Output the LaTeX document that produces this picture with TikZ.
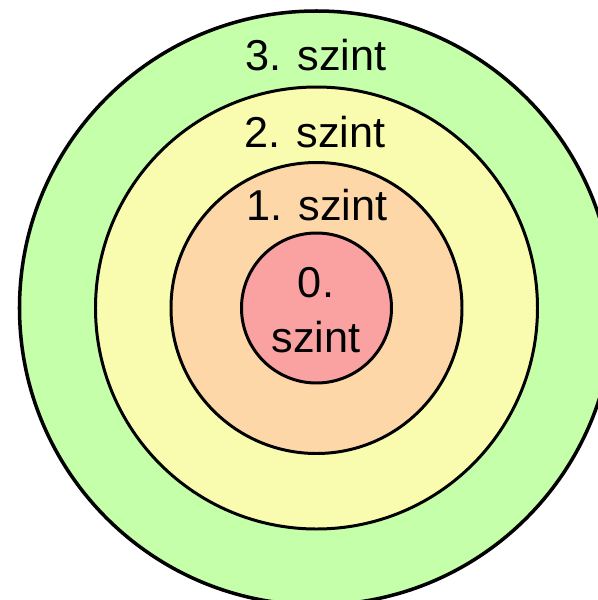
\documentclass[tikz,border=0pt]{standalone}
\usepackage{fontspec}
\setmainfont{Liberation Sans}
\usepackage{xcolor}
\usepackage{tikz}
\usetikzlibrary{positioning}

\definecolor{levelthree}{RGB}{197,255,170}
\definecolor{leveltwo}{RGB}{249,252,175}
\definecolor{levelone}{RGB}{253,215,168}
\definecolor{levelzero}{RGB}{250,162,162}

\begin{document}
\begin{tikzpicture}[
		ring/.style={draw=black, line width=0.85pt},
		label/.style={inner sep=0pt, font=\fontsize{12.3}{15.5}\selectfont, align=center}
	]
		
		% Frame
		\useasboundingbox (0,0) rectangle (5.98,-6.00);
		\clip (0,0) rectangle (5.98,-6.00);
		
		% Centre
		\coordinate (c) at (3.165,-3.08);
		
		% Rings
		\filldraw[ring, fill=levelthree, line width=1pt] (c) circle (2.97);
		\filldraw[ring, fill=leveltwo] (c) circle (2.21);
		\filldraw[ring, fill=levelone] (c) circle (1.455);
		\filldraw[ring, fill=levelzero] (c) circle (0.75);
		
		% Labels
		\node[label, anchor=base] (three) at (3.16,-0.70) {3. szint};
		\node[label, anchor=base] (two) at (3.15,-1.47) {2. szint};
		\node[label, anchor=base] (one) at (3.17,-2.20) {1. szint};
		\node[label] (zero) at (3.16,-3.10) {0.\\szint};
		
	\end{tikzpicture}
\end{document}
